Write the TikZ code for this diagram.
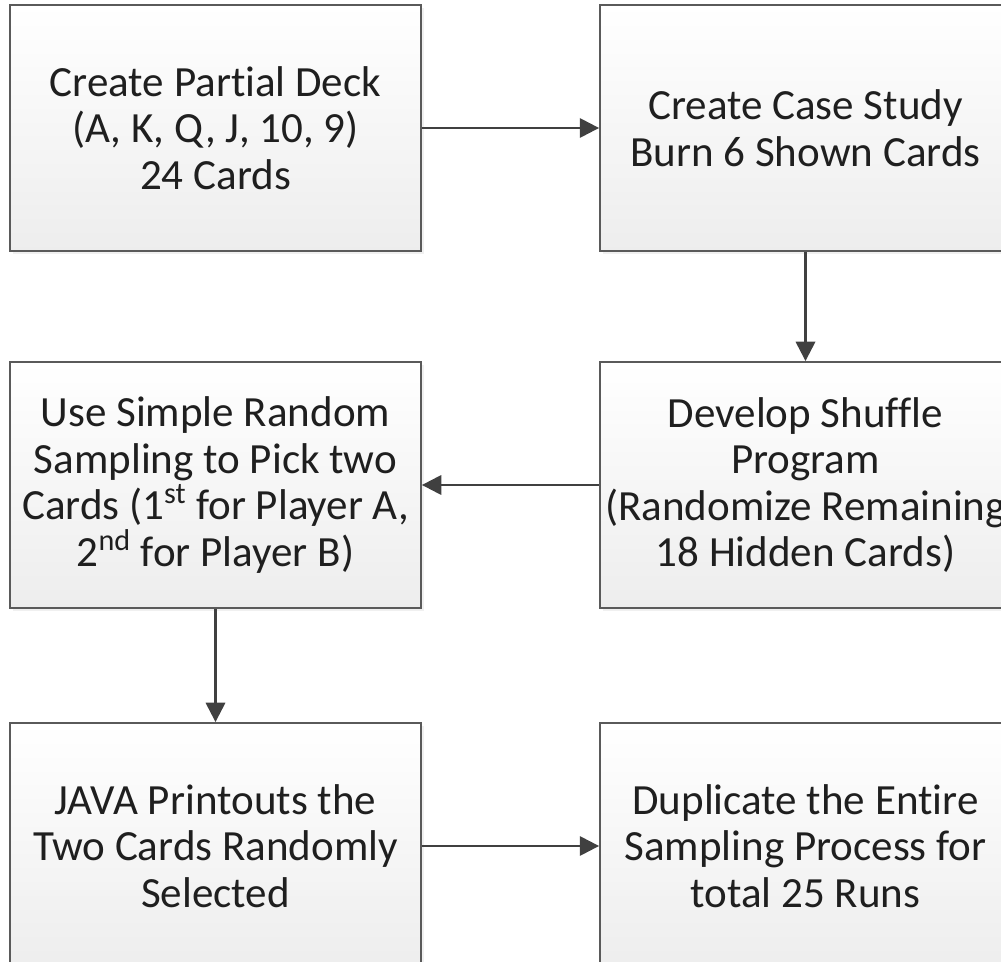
\documentclass[tikz,border=0pt]{standalone}
\usepackage{fontspec}
\setmainfont[Ligatures=NoCommon]{Carlito}
\usetikzlibrary{arrows.meta,shadows}
\definecolor{boxline}{HTML}{5A5A5A}
\definecolor{arrowgray}{HTML}{404040}
\tikzset{
    stepbox/.style={draw=boxline,line width=1.1pt,top color=white,bottom color=black!7,
        drop shadow={opacity=0.12,shadow xshift=1.5pt,shadow yshift=-1.5pt},
        minimum width=8.22cm,minimum height=4.92cm,inner xsep=0pt,align=center,
        text=black!88,font=\fontsize{24.5}{26.5}\selectfont},
    flow/.style={draw=arrowgray,line width=1.4pt,-{Triangle[length=11pt,width=11pt]}}
}
\begin{document}
\begin{tikzpicture}[x=0.02cm,y=-0.02cm]
    \useasboundingbox (0,0) rectangle (1001,962);
    \node[stepbox] (deck) at (215.5,128) {Create Partial Deck\\(A, K, Q, J, 10, 9)\\24 Cards};
    \node[stepbox] (case) at (805.5,128) {Create Case Study\\Burn 6 Shown Cards};
    \node[stepbox] (shuffle) at (805.5,485) {Develop Shuffle\\Program\\(Randomize Remaining\\18 Hidden Cards)};
    \node[stepbox] (pick) at (215.5,485) {Use Simple Random\\Sampling to Pick two\\Cards (1\textsuperscript{st} for Player A,\\2\textsuperscript{nd} for Player B)};
    \node[stepbox] (java) at (215.5,846) {JAVA Printouts the\\Two Cards Randomly\\Selected};
    \node[stepbox] (dup) at (805.5,846) {Duplicate the Entire\\Sampling Process for\\total 25 Runs};
    \draw[flow] (deck) -- (case);
    \draw[flow] (case) -- (shuffle);
    \draw[flow] (shuffle) -- (pick);
    \draw[flow] (pick) -- (java);
    \draw[flow] (java) -- (dup);
\end{tikzpicture}
\end{document}
